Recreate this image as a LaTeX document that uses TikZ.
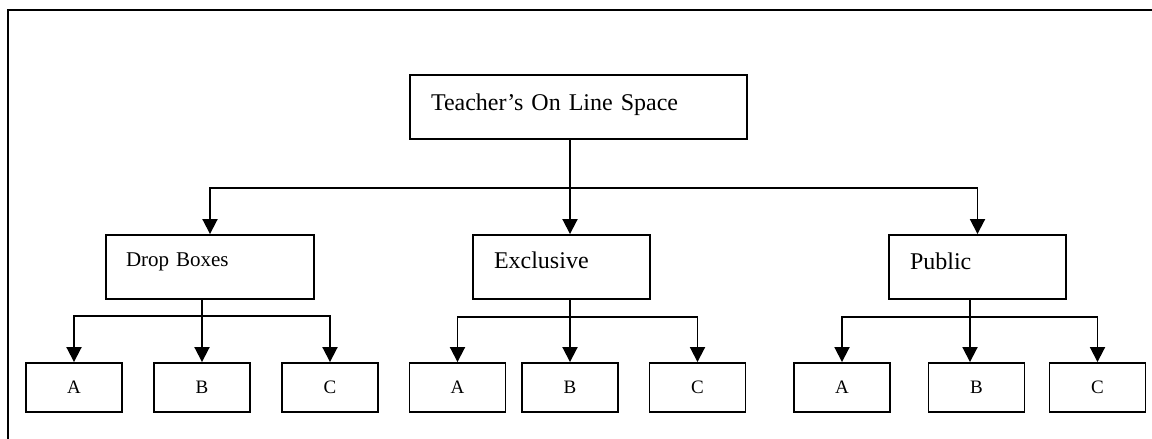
\documentclass[tikz,border=0pt]{standalone}
\usepackage{fontspec}
\setmainfont{Liberation Serif}
\usetikzlibrary{arrows.meta}

\begin{document}
\begin{tikzpicture}[x=1pt, y=-1pt]
        \tikzstyle{box} = [draw, line width=1.9pt, rectangle, inner xsep=21pt, inner ysep=0pt, align=left, font=\fontsize{24}{28}\selectfont, minimum height=64pt];
        \tikzstyle{leaf} = [draw, line width=1.9pt, rectangle, minimum height=49pt, minimum width=96pt, font=\fontsize{19}{21}\selectfont];
        \tikzstyle{arr} = [-{Triangle[width=15pt, length=15pt]}, line width=1.9pt];

        \useasboundingbox (0,0) rectangle (1152,439);
        \clip (0,0) rectangle (1152,439);
        \draw [line width=2.2pt] (8,10) rectangle (1170,460);

        \node(top)[box, text width=295pt, text height=35pt, text depth=29pt] at (578.5,107){Teacher's On Line Space};

        \node(drop)[box, inner xsep=20pt, text width=168pt, text height=31pt, text depth=33pt, font=\fontsize{21}{24}\selectfont] at (210,267){Drop Boxes};
        \node(excl)[box, text width=135pt, text height=33pt, text depth=31pt] at (561.5,267){Exclusive};
        \node(pub)[box, text width=135pt, text height=34pt, text depth=30pt] at (977.5,267){Public};

        \node(dA)[leaf] at (74,387.5){A};
        \node(dB)[leaf] at (202,387.5){B};
        \node(dC)[leaf] at (330,387.5){C};
        \node(eA)[leaf] at (457.5,387.5){A};
        \node(eB)[leaf] at (570,387.5){B};
        \node(eC)[leaf] at (697.5,387.5){C};
        \node(pA)[leaf] at (842,387.5){A};
        \node(pB)[leaf] at (976.5,387.5){B};
        \node(pC)[leaf] at (1097.5,387.5){C};

        % top level
        \draw [arr] ([xshift=-8.5pt]top.south) -- ++(0,48) -| (drop.north);
        \draw [arr] ([xshift=-8.5pt]top.south) -- ([xshift=8.5pt]excl.north);
        \draw [arr] ([xshift=-8.5pt]top.south) -- ++(0,48) -| (pub.north);

        % drop boxes
        \draw [arr] ([xshift=-8pt]drop.south) -- ++(0,16) -| (dA.north);
        \draw [arr] ([xshift=-8pt]drop.south) -- (dB.north);
        \draw [arr] ([xshift=-8pt]drop.south) -- ++(0,16) -| (dC.north);

        % exclusive
        \draw [arr] ([xshift=8.5pt]excl.south) -- ++(0,17) -| (eA.north);
        \draw [arr] ([xshift=8.5pt]excl.south) -- (eB.north);
        \draw [arr] ([xshift=8.5pt]excl.south) -- ++(0,17) -| (eC.north);

        % public
        \draw [arr] ([xshift=-7.5pt]pub.south) -- ++(0,17) -| (pA.north);
        \draw [arr] ([xshift=-7.5pt]pub.south) -- ([xshift=-6.5pt]pB.north);
        \draw [arr] ([xshift=-7.5pt]pub.south) -- ++(0,17) -| (pC.north);
    \end{tikzpicture}
\end{document}
